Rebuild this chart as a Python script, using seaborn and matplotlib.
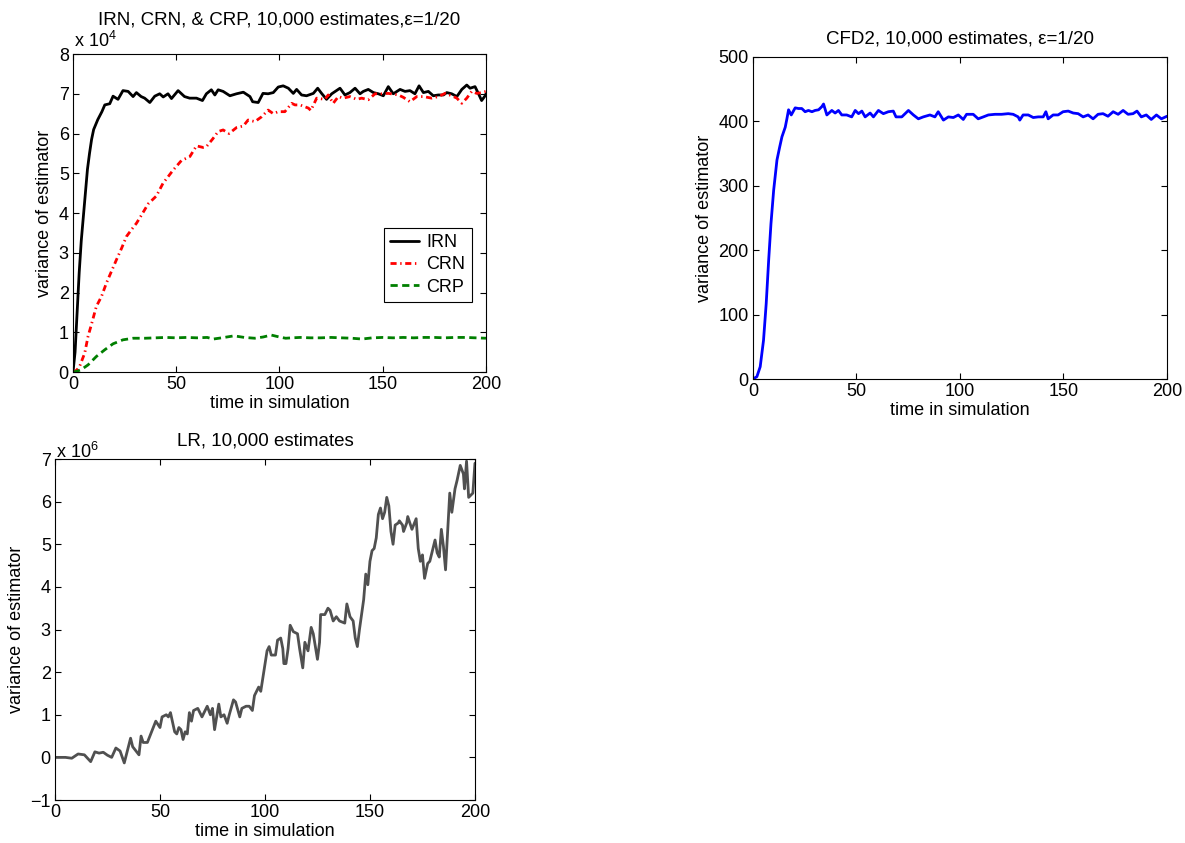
import matplotlib
matplotlib.use("Agg")
import matplotlib.pyplot as plt
import seaborn as sns
import pandas as pd

# ---------------- data ----------------
# top-left panel, values in units of 1e4
irn_t = [0, 1, 2, 3, 4, 5, 6, 7, 8, 9, 10, 12, 14, 15.4, 17.8, 19.4, 21.8, 24.2, 26.7, 29.1,
         30.7, 33, 34.7, 37.2, 39.6, 42, 43.7, 46, 47.7, 50.9, 54, 56.5, 59.8, 62.7, 64.6, 67,
         68.7, 70.3, 72.7, 76, 79.2, 82.5, 85.7, 87, 89.7, 92, 94.5, 97, 99.4,
         101.8, 104.3, 106.7, 108.3, 110.7, 113.1, 116.4, 118.5, 120.4, 122.8, 125.3, 129.3,
         131.7, 134.1, 136.6, 139, 140.6, 143, 145.5, 147.9, 150.3, 152.7, 155.1, 158.4, 160.8,
         163.2, 165.6, 167.6, 169.7, 172.1, 174.5, 176.9, 179.4, 181, 183.4, 185.9, 188.3,
         190.7, 192.3, 194.7, 196.3, 197.9, 199.6, 200]
irn_v = [0, 0.5, 1.5, 2.5, 3.3, 3.9, 4.5, 5.1, 5.5, 5.85, 6.1, 6.35, 6.55, 6.72, 6.75, 6.94,
         6.86, 7.08, 7.06, 6.93, 7.03, 6.93, 6.89, 6.78, 6.94, 7.0, 6.92, 7.0, 6.88, 7.08, 6.93,
         6.89, 6.89, 6.83, 7.0, 7.1, 6.97, 7.1, 7.06, 6.95, 7.0, 7.04, 6.93, 6.8, 6.78, 7.01,
         7.0, 7.03, 7.17,
         7.2, 7.14, 7.01, 7.11, 6.97, 6.95, 7.01, 7.14, 7.01, 6.86, 7.0, 7.14,
         6.97, 7.03, 7.14, 7.0, 7.06, 7.11, 7.03, 7.0, 6.95, 7.18, 7.0, 7.11, 7.06,
         7.08, 7.0, 7.2, 7.03, 7.06, 6.95, 6.97, 6.97, 7.03, 7.0, 6.93, 7.11,
         7.22, 7.14, 7.18, 7.01, 6.83, 6.95, 7.0]

crn_t = [0, 1, 2, 3.2, 5.7, 7.3, 8.9, 11.3, 13.8, 16.2, 18.6, 21, 23.5, 25.9, 28.3, 30.7,
         33.2, 36.4, 40.4, 43.6, 46, 48.5, 52.5, 56.6, 59.8, 63, 64.6, 67.6, 70.3, 72.7, 75.6,
         79.2, 82.5, 84.8, 88.1, 91.3, 94.5, 97, 99.4, 102.6, 105.9, 107.5, 109.9, 114, 115.2,
         118, 122, 123.6, 126, 128.5, 130.9, 134.1, 137.4, 139.8, 143, 146.3, 149.5, 152.7,
         157.6, 160, 163.2, 166.5, 169.7, 173.7, 177, 180.2, 183.4, 185.9, 188.3, 190.7, 193.1,
         195.5, 197.9, 200]
crn_v = [0, 0.02, 0.06, 0.14, 0.48, 0.9, 1.19, 1.65, 1.9, 2.24, 2.53, 2.82, 3.11, 3.41, 3.58,
         3.74, 3.95, 4.23, 4.43, 4.75, 4.91, 5.08, 5.32, 5.42, 5.69, 5.65, 5.67, 5.86, 6.05,
         6.09, 6.0, 6.15, 6.19, 6.34, 6.3, 6.42, 6.59, 6.5, 6.55, 6.55, 6.76, 6.72, 6.72, 6.64,
         6.58, 6.89, 6.86, 6.97, 6.76, 6.93, 6.89, 6.93, 6.86, 6.89, 6.85, 7.0, 7.0, 7.01, 6.97,
         6.91, 6.8, 6.93, 6.93, 6.89, 6.93, 7.01, 6.95, 6.89, 6.76, 6.89, 7.06, 7.01, 7.03, 7.06]

crp_t = [0, 2, 4, 7.3, 11.3, 15.4, 19.4, 24.2, 29.1, 35, 40, 45, 50, 55, 60, 65, 68, 72, 78,
         83, 88, 92, 96, 100, 103, 106, 110, 115, 120, 125, 130, 135, 140, 145, 150, 155, 160,
         165, 170, 175, 180, 185, 190, 195, 200]
crp_v = [0, 0.02, 0.06, 0.18, 0.39, 0.56, 0.71, 0.81, 0.85, 0.85, 0.86, 0.87, 0.86, 0.87, 0.86,
         0.87, 0.83, 0.86, 0.91, 0.87, 0.85, 0.88, 0.93, 0.88, 0.85, 0.86, 0.87, 0.86, 0.86,
         0.87, 0.86, 0.85, 0.83, 0.86, 0.87, 0.86, 0.87, 0.86, 0.87, 0.87, 0.86, 0.87, 0.87,
         0.86, 0.85]

# top-right panel
cfd_t = [0, 1.9, 3.5, 5.1, 6.4, 7.6, 8.7, 10, 11.6, 12.9, 14, 15.6, 16.4, 17.2, 18.5, 20.4, 22,
         23.6, 25.2, 26.8, 28.5, 30, 31.7, 33.3, 34.1, 35.7, 38.1, 39.7, 41.3, 42.9, 45.3, 47.7,
         49.4, 51, 52.6, 54.2, 56.6, 58.2, 60.6, 63, 65.4, 67.8, 69.1, 71.9, 75.1, 77.5, 79.9,
         82.3, 85.5, 87.9, 89.5, 92, 94.4, 96.8, 99.2, 101.6, 103.2, 106.4, 108.8, 111.3, 113.7,
         116.9, 120.1, 123.3, 125.7, 128.1, 128.9, 130.5, 133, 135.4, 137.8, 140.2, 141.5, 142.6,
         145, 147.4, 149.8, 152.3, 154.7, 157.1, 159.5, 161.9, 164.3, 166.7, 169.1, 171.5, 174,
         176.4, 178.8, 181.2, 183.6, 185.5, 187.6, 190, 192.4, 194.9, 197.3, 200]
cfd_v = [0, 3.6, 19, 60, 117, 185, 241, 293, 340, 360, 376, 391, 404, 418, 410, 421, 420, 420,
         415, 417, 415, 417, 418, 423, 427, 410, 417, 413, 417, 410, 410, 407, 417, 412, 416,
         407, 413, 407, 417, 412, 415, 416, 407, 407, 417, 410, 404, 407, 410, 407, 415, 402,
         407, 406, 410, 403, 411, 411, 404, 407, 410, 411, 411, 412, 411, 407, 402, 410, 410,
         406, 407, 407, 415, 404, 410, 410, 415, 416, 413, 412, 407, 410, 404, 411, 412, 408,
         415, 411, 417, 411, 412, 416, 407, 410, 403, 410, 404, 408]

# bottom-left panel, values in units of 1e6
lr_t = [0, 5, 8, 11, 14, 17, 19, 21, 23, 25, 27, 29, 31, 33, 36, 37, 40, 41, 42, 44, 46, 48, 50,
        51, 53, 54, 55, 57, 58, 59, 60, 61, 62, 63, 64, 65, 66, 68, 70, 71, 72.5, 74, 75, 76,
        78, 79, 80.5, 82, 83, 85, 86, 88, 89, 91, 92.5, 94, 95, 97, 98, 101, 102, 103, 105, 106,
        107.5, 108.5, 109, 110, 111, 112, 113.5, 115.5, 116.5, 118, 119, 120.5, 122, 123, 125,
        126, 126.5, 128.5, 130, 131, 132.5, 134, 135.5, 138, 139, 140.5, 142, 143, 144, 145,
        147, 148, 149, 150, 151, 152, 153, 154, 155, 156, 157, 158, 159, 160, 161, 162, 163.5,
        164, 165.5, 166, 167.5, 168, 170, 172, 173, 174, 175, 176, 177.5, 178.5, 181, 182, 183,
        184, 185, 186, 188, 189, 190.5, 191.5, 193, 194.5, 195, 196, 197, 199, 200]
lr_v = [0, 0, -0.02, 0.08, 0.06, -0.1, 0.13, 0.1, 0.12, 0.05, 0.0, 0.22, 0.15, -0.13, 0.45,
        0.25, 0.06, 0.5, 0.35, 0.35, 0.6, 0.85, 0.7, 0.95, 1.0, 0.95, 1.05, 0.6, 0.55, 0.7, 0.65,
        0.42, 0.6, 0.55, 1.05, 0.85, 1.1, 1.15, 0.95, 1.05, 1.2, 1.0, 1.15, 0.65, 1.25, 0.95,
        1.0, 0.8, 1.0, 1.35, 1.3, 0.95, 1.15, 1.2, 1.2, 1.1, 1.45, 1.65, 1.55, 2.5, 2.6, 2.4,
        2.4, 2.75, 2.8, 2.55, 2.2, 2.2, 2.55, 3.1, 2.95, 2.9, 2.55, 2.1, 2.7, 2.5, 3.05, 2.9,
        2.3, 2.7, 3.35, 3.35, 3.5, 3.45, 3.2, 3.3, 3.2, 3.15, 3.6, 3.3, 3.2, 2.8, 2.6, 3.0, 3.7,
        4.3, 4.05, 4.6, 4.85, 4.9, 5.15, 5.7, 5.85, 5.6, 5.75, 6.1, 5.9, 5.3, 5.0, 5.45, 5.5,
        5.55, 5.45, 5.3, 5.5, 5.65, 5.35, 5.6, 4.9, 4.6, 4.75, 4.2, 4.55, 4.6, 5.1, 4.8, 4.7,
        5.35, 4.95, 4.4, 6.2, 5.75, 6.3, 6.5, 6.85, 6.65, 6.3, 6.95, 6.1, 6.2, 6.9]

x_ticks = [0, 50, 100, 150, 200]
tl_yticks = [0, 1, 2, 3, 4, 5, 6, 7, 8]
tr_yticks = [0, 100, 200, 300, 400, 500]
bl_yticks = [-1, 0, 1, 2, 3, 4, 5, 6, 7]

# ---------------- style ----------------
sns.set_theme(style="white")
plt.rcParams["font.family"] = ["Liberation Sans", "DejaVu Sans"]
plt.rcParams["mathtext.fontset"] = "custom"
plt.rcParams["mathtext.rm"] = "Liberation Sans"
plt.rcParams["mathtext.it"] = "Liberation Sans"
plt.rcParams["text.color"] = "black"
plt.rcParams["axes.labelcolor"] = "black"
plt.rcParams["xtick.color"] = "black"
plt.rcParams["ytick.color"] = "black"
plt.rcParams["legend.labelcolor"] = "black"
FS = 13

fig = plt.figure(figsize=(11.85, 8.43), dpi=100)
fig.patch.set_facecolor("white")

ax1 = fig.add_axes([0.0616, 0.5587, 0.3485, 0.3772])
ax2 = fig.add_axes([0.6354, 0.5504, 0.3494, 0.3820])
ax3 = fig.add_axes([0.0464, 0.0510, 0.3544, 0.4045])


def style_axis(ax):
    for s in ax.spines.values():
        s.set_visible(True)
        s.set_color("black")
        s.set_linewidth(0.8)
    ax.set_facecolor("white")
    ax.tick_params(axis="both", which="both", direction="in", length=4, width=0.8,
                   colors="black", labelcolor="black", labelsize=FS, top=True, right=True,
                   bottom=True, left=True, labeltop=False, labelright=False, pad=3)
    ax.grid(False)


df1 = pd.DataFrame({"t": irn_t, "v": irn_v})
df2 = pd.DataFrame({"t": crn_t, "v": crn_v})
df3 = pd.DataFrame({"t": crp_t, "v": crp_v})
sns.lineplot(data=df1, x="t", y="v", ax=ax1, color="black", lw=2.0, label="IRN",
             estimator=None)
sns.lineplot(data=df2, x="t", y="v", ax=ax1, color="#ff0000", lw=2.0, label="CRN",
             estimator=None, linestyle=(0, (2.2, 1.3, 0.5, 1.3)))
sns.lineplot(data=df3, x="t", y="v", ax=ax1, color="#007f00", lw=2.0, label="CRP",
             estimator=None, linestyle=(0, (2.6, 1.6)))
ax1.set_xlim(0, 200)
ax1.set_ylim(0, 8)
ax1.set_xticks(x_ticks)
ax1.set_yticks(tl_yticks)
ax1.set_xlabel("time in simulation", fontsize=FS, labelpad=1, color="black")
ax1.set_ylabel("variance of estimator", fontsize=FS, labelpad=4, color="black")
ax1.set_title("IRN, CRN, & CRP, 10,000 estimates,ε=1/20", fontsize=13.5, pad=21,
              color="black")
ax1.text(0.003, 1.008, r"x 10$^{4}$", transform=ax1.transAxes, ha="left", va="bottom",
         fontsize=FS, color="black")
style_axis(ax1)
leg = ax1.legend(loc="lower right", bbox_to_anchor=(0.966, 0.22), frameon=True,
                 fancybox=False, edgecolor="black", framealpha=1, fontsize=FS,
                 handlelength=1.6, handletextpad=0.4, borderpad=0.35, labelspacing=0.3,
                 borderaxespad=0)
leg.get_frame().set_linewidth(0.8)
for txt in leg.get_texts():
    txt.set_color("black")

dfc = pd.DataFrame({"t": cfd_t, "v": cfd_v})
sns.lineplot(data=dfc, x="t", y="v", ax=ax2, color="#0000ff", lw=2.0, estimator=None)
ax2.set_xlim(0, 200)
ax2.set_ylim(0, 500)
ax2.set_xticks(x_ticks)
ax2.set_yticks(tr_yticks)
ax2.set_xlabel("time in simulation", fontsize=FS, labelpad=1, color="black")
ax2.set_ylabel("variance of estimator", fontsize=FS, labelpad=4, color="black")
ax2.set_title("CFD2, 10,000 estimates, ε=1/20", fontsize=13.5, pad=10, color="black")
style_axis(ax2)

dfl = pd.DataFrame({"t": lr_t, "v": lr_v})
sns.lineplot(data=dfl, x="t", y="v", ax=ax3, color="#505050", lw=2.0, estimator=None)
ax3.set_xlim(0, 200)
ax3.set_ylim(-1, 7)
ax3.set_xticks(x_ticks)
ax3.set_yticks(bl_yticks)
ax3.set_yticklabels(["\u22121"] + [str(v) for v in bl_yticks[1:]])
ax3.set_xlabel("time in simulation", fontsize=FS, labelpad=1, color="black")
ax3.set_ylabel("variance of estimator", fontsize=FS, labelpad=4, color="black")
ax3.set_title("LR, 10,000 estimates", fontsize=13.5, pad=10, color="black")
ax3.text(0.003, 0.99, r"x 10$^{6}$", transform=ax3.transAxes, ha="left", va="bottom",
         fontsize=FS, color="black")
style_axis(ax3)

fig.savefig("out.png", dpi=100, facecolor="white")
